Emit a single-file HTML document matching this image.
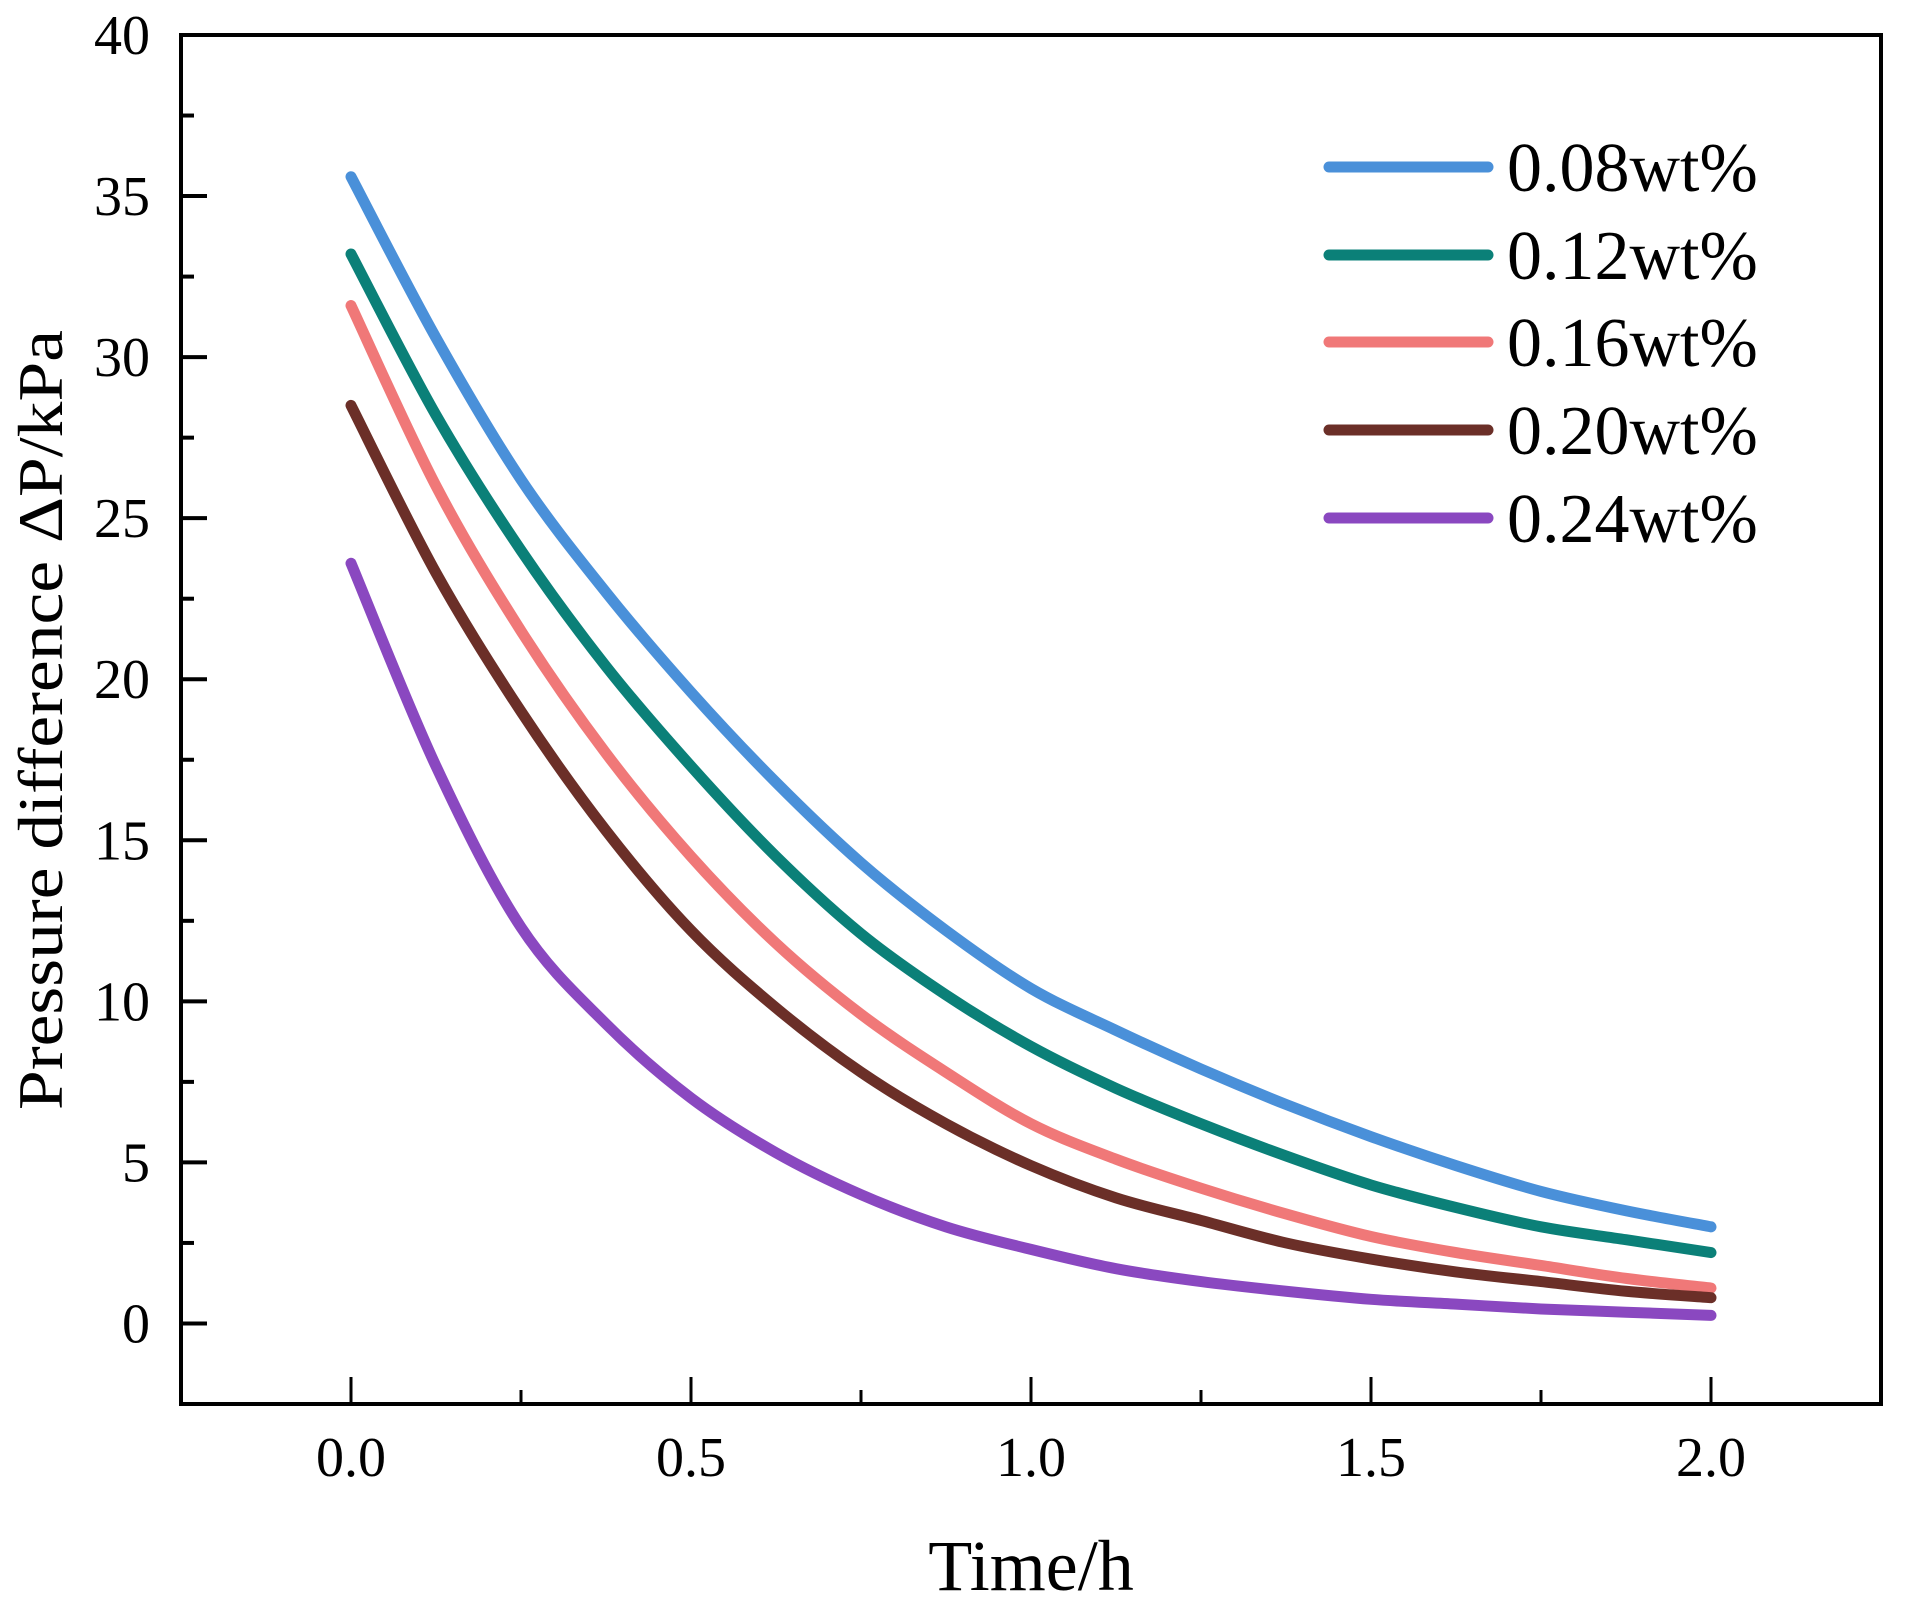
<!DOCTYPE html>
<html><head><meta charset="utf-8"><style>
html,body{margin:0;padding:0;background:#fff;}
svg{display:block;font-family:"Liberation Serif",serif;}
</style></head><body>
<svg id="chart" width="1905" height="1606" viewBox="0 0 1905 1606" xmlns="http://www.w3.org/2000/svg">
<g id="series"></g>
<g id="axes"></g>
<g id="legend"></g>
<text x="1031" y="1590" font-size="72" text-anchor="middle">Time/h</text>
<text transform="translate(62,720) rotate(-90)" font-size="64" text-anchor="middle" textLength="780" lengthAdjust="spacingAndGlyphs">Pressure difference ΔP/kPa</text>
</svg>
<script>
const times = [0, 0.125, 0.25, 0.375, 0.5, 0.625, 0.75, 0.875, 1.0, 1.125, 1.25, 1.375, 1.5, 1.625, 1.75, 1.875, 2.0];
const s008 = [35.6, 30.6, 26.2, 22.7, 19.6, 16.8, 14.3, 12.2, 10.4, 9.1, 7.9, 6.8, 5.8, 4.9, 4.1, 3.5, 3.0];
const s012 = [33.2, 28.2, 24.0, 20.4, 17.3, 14.5, 12.1, 10.2, 8.6, 7.3, 6.2, 5.2, 4.3, 3.6, 3.0, 2.6, 2.2];
const s016 = [31.6, 26.0, 21.5, 17.7, 14.5, 11.8, 9.6, 7.8, 6.2, 5.1, 4.2, 3.4, 2.7, 2.2, 1.8, 1.4, 1.1];
const s020 = [28.5, 23.3, 19.0, 15.3, 12.2, 9.8, 7.8, 6.2, 4.9, 3.9, 3.2, 2.5, 2.0, 1.6, 1.3, 1.0, 0.8];
const s024 = [23.6, 17.3, 12.3, 9.3, 7.0, 5.3, 4.0, 3.0, 2.3, 1.7, 1.3, 1.0, 0.75, 0.6, 0.45, 0.35, 0.25];
const seriesNames = ["0.08wt%", "0.12wt%", "0.16wt%", "0.20wt%", "0.24wt%"];
const xTicks = [0, 0.5, 1.0, 1.5, 2.0];
const xTickLabels = ["0.0", "0.5", "1.0", "1.5", "2.0"];
const yTicks = [0, 5, 10, 15, 20, 25, 30, 35, 40];

const NS = "http://www.w3.org/2000/svg";
const L = 181, R = 1881, T = 35, B = 1404;
const xMin = -0.25, xMax = 2.25, yMin = -2.5, yMax = 40;
const xs = v => L + (v - xMin) / (xMax - xMin) * (R - L);
const ys = v => B - (v - yMin) / (yMax - yMin) * (B - T);
const colors = ["#4a90d9", "#0b8078", "#f07878", "#6b2f28", "#8a48c0"];
const allSeries = [s008, s012, s016, s020, s024];

function mk(tag, attrs, parent) {
  const e = document.createElementNS(NS, tag);
  for (const k in attrs) e.setAttribute(k, attrs[k]);
  parent.appendChild(e);
  return e;
}
const axes = document.getElementById("axes");
const seriesG = document.getElementById("series");
const legendG = document.getElementById("legend");

function pathFor(vals) {
  const p = times.map((t, i) => [xs(t), ys(vals[i])]);
  let d = "M" + p[0][0] + "," + p[0][1];
  for (let i = 0; i < p.length - 1; i++) {
    const p0 = p[Math.max(0, i - 1)], p1 = p[i], p2 = p[i + 1], p3 = p[Math.min(p.length - 1, i + 2)];
    const c1x = p1[0] + (p2[0] - p0[0]) / 6, c1y = p1[1] + (p2[1] - p0[1]) / 6;
    const c2x = p2[0] - (p3[0] - p1[0]) / 6, c2y = p2[1] - (p3[1] - p1[1]) / 6;
    d += " C" + c1x + "," + c1y + " " + c2x + "," + c2y + " " + p2[0] + "," + p2[1];
  }
  return d;
}
allSeries.forEach((vals, i) => {
  const path = mk("path", {d: pathFor(vals), fill: "none", stroke: colors[i], "stroke-width": 11, "stroke-linecap": "round", "stroke-linejoin": "round"}, seriesG);
  
  
});

const frame = mk("rect", {x: L, y: T, width: R - L, height: B - T, fill: "none", stroke: "#000", "stroke-width": 4}, axes);



yTicks.forEach(v => {
  const y = ys(v);
  const t = mk("line", {x1: L, x2: L + 26, y1: y, y2: y, stroke: "#000", "stroke-width": 4}, axes);
  
  
  const lb = mk("text", {x: 150, y: y + 19, "font-size": 56, "text-anchor": "end"}, axes);
  lb.textContent = String(v);
  
  
  if (v < 40) {
    const ym = ys(v + 2.5);
    const m = mk("line", {x1: L, x2: L + 13, y1: ym, y2: ym, stroke: "#000", "stroke-width": 4}, axes);
    
    
  }
});
xTicks.forEach((v, i) => {
  const x = xs(v);
  const t = mk("line", {x1: x, x2: x, y1: B, y2: B - 27, stroke: "#000", "stroke-width": 3}, axes);
  
  
  const lb = mk("text", {x: x, y: 1476, "font-size": 56, "text-anchor": "middle"}, axes);
  lb.textContent = xTickLabels[i];
  
  
  if (i < xTicks.length - 1) {
    const xm = xs(v + 0.25);
    const m = mk("line", {x1: xm, x2: xm, y1: B, y2: B - 14, stroke: "#000", "stroke-width": 3}, axes);
    
    
  }
});

const legY = [167, 255, 342, 430, 518];
seriesNames.forEach((n, i) => {
  const g = mk("g", {}, legendG);
  
  
  mk("line", {x1: 1329, x2: 1488, y1: legY[i], y2: legY[i], stroke: colors[i], "stroke-width": 11, "stroke-linecap": "round"}, g);
  const t = mk("text", {x: 1507, y: legY[i] + 24, "font-size": 70}, g);
  t.textContent = n;
});
</script>
</body></html>
